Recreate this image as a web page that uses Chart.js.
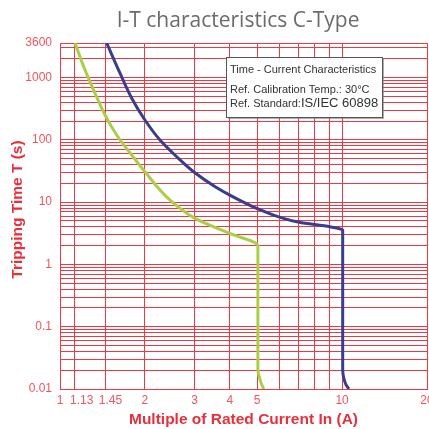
<!DOCTYPE html>
<html>
<head>
<meta charset="utf-8">
<script src="https://cdn.jsdelivr.net/npm/chart.js@4.4.1/dist/chart.umd.min.js"></script>
<style>
  html, body { margin:0; padding:0; background:#fff; }
  #wrap { width:429px; height:429px; position:relative; }
</style>
</head>
<body>
<div id="wrap"><canvas id="it-chart"></canvas></div>
<script>
// Curves: [multiple of In, seconds]
const blueCurve = [
  [1.464, 3600], [1.632, 1178], [1.796, 467], [2.0, 209], [2.262, 99.6], [2.593, 53.7],
  [3.0, 30], [3.55, 17.7], [4.0, 13.0], [5.0, 7.9], [5.97, 5.8], [7.05, 4.75],
  [9.06, 4.02], [10.05, 3.56], [10.05, 0.02], [10.14, 0.015], [10.3, 0.012], [10.57, 0.01]
];
const greenCurve = [
  [1.13, 3600], [1.226, 1330], [1.331, 561], [1.444, 251], [1.588, 120], [1.785, 59],
  [2.0, 30.8], [2.455, 10.8], [3.01, 5.5], [4.0, 3.15], [5.03, 2.0], [5.03, 0.02],
  [5.1, 0.015], [5.18, 0.012], [5.28, 0.01]
];

const xGridValues = [1, 1.13, 1.45, 2, 3, 4, 5, 6, 7, 8, 9, 10, 20];
const xTickLabels = [1, 1.13, 1.45, 2, 3, 4, 5, 10, 20];
const yTickLabels = [0.01, 0.1, 1, 10, 100, 1000, 3600];
const yMin = 0.01, yMax = 3600;

const legendLines = ['Time - Current Characteristics', 'Ref. Calibration Temp.: 30°C', 'Ref. Standard:', 'IS/IEC 60898'];

const RED_GRID = '#ec3a44';
const RED_TICK = '#ef5560';
const RED_TITLE = '#e8303b';
const LABEL_PAD = { 1.13: 4, 1.45: 3 };   // crowded labels sit a little right of their line

function yGrid() {
  const out = [];
  for (let e = -2; e <= 3; e++) {
    for (let m = 1; m <= 9; m++) {
      const v = +(m * Math.pow(10, e)).toPrecision(3);
      if (v <= yMax) out.push(v);
    }
  }
  out.push(yMax);
  return out;
}

const infoBox = {
  id: 'infoBox',
  afterDatasetsDraw(chart) {
    const ctx = chart.ctx;
    const x = 226, y = 57, w = 156, h = 60;
    ctx.save();
    ctx.fillStyle = 'rgba(120,120,120,0.6)';
    ctx.fillRect(x + 2, y + 2, w, h);
    ctx.fillStyle = '#fff';
    ctx.fillRect(x, y, w, h);
    ctx.strokeStyle = '#555';
    ctx.lineWidth = 1;
    ctx.strokeRect(x + 0.5, y + 0.5, w, h);
    ctx.fillStyle = '#333';
    ctx.textBaseline = 'alphabetic';
    ctx.font = '11px "Liberation Sans", Arial, sans-serif';
    ctx.fillText(legendLines[0], 230, 73);
    ctx.fillText(legendLines[1], 230, 93);
    ctx.fillText(legendLines[2], 230, 107);
    const wPre = ctx.measureText(legendLines[2]).width;
    ctx.font = '13px "Liberation Sans", Arial, sans-serif';
    ctx.fillText(legendLines[3], 230 + wPre, 107);
    ctx.restore();
  }
};

const toPts = arr => arr.map(([x, y]) => ({ x, y }));

new Chart(document.getElementById('it-chart'), {
  type: 'line',
  data: {
    datasets: [
      { label: 'C-Type max', data: toPts(blueCurve), borderColor: '#363f8e', borderWidth: 3,
        pointRadius: 0, cubicInterpolationMode: 'monotone', fill: false },
      { label: 'C-Type min', data: toPts(greenCurve), borderColor: '#a9cf47', borderWidth: 3,
        pointRadius: 0, cubicInterpolationMode: 'monotone', fill: false }
    ]
  },
  options: {
    indexAxis: 'y',
    responsive: true, maintainAspectRatio: false, animation: false,
    layout: { padding: { left: 0, right: 2, top: 0, bottom: 0 } },
    plugins: {
      legend: { display: false },
      tooltip: { enabled: false },
      title: {
        display: true, text: 'I-T characteristics C-Type  ', fullSize: false,
        color: '#6b6b6b', font: { family: '"Open Sans", sans-serif', size: 21, weight: 'normal' },
        padding: { top: 8, bottom: 9.8 }
      }
    },
    scales: {
      x: {
        type: 'logarithmic', position: 'bottom', min: 1, max: 20,
        afterBuildTicks: s => { s.ticks = xGridValues.map(v => ({ value: v })); },
        afterFit: s => { s.height = 40; s.paddingRight = 0; s.paddingLeft = 0; },
        grid: { color: RED_GRID, lineWidth: 1, drawTicks: false },
        border: { display: true, color: RED_GRID },
        ticks: {
          autoSkip: false, maxRotation: 0, padding: 4, color: RED_TICK,
          font: { family: '"Liberation Sans", Arial, sans-serif', size: 12 },
          callback: v => xTickLabels.includes(v) ? ' '.repeat(LABEL_PAD[v] || 0) + String(v) : ''
        },
        title: {
          display: true, text: 'Multiple of Rated Current In (A)', color: RED_TITLE,
          font: { family: '"Liberation Sans", Arial, sans-serif', size: 15.5, weight: 'bold' },
          padding: { top: 0, bottom: 0 }
        }
      },
      y: {
        type: 'logarithmic', position: 'left', min: yMin, max: yMax,
        afterBuildTicks: s => { s.ticks = yGrid().map(v => ({ value: v })); },
        afterFit: s => { s.width = 60; },
        grid: { color: RED_GRID, lineWidth: 1, drawTicks: false },
        border: { display: true, color: RED_GRID },
        ticks: {
          autoSkip: false, padding: 8, color: RED_TICK,
          font: { family: '"Liberation Sans", Arial, sans-serif', size: 12 },
          callback: v => yTickLabels.includes(v) ? String(v) : ''
        },
        title: {
          display: true, text: '   Tripping Time T (s)', color: RED_TITLE,
          font: { family: '"Liberation Sans", Arial, sans-serif', size: 15.5, weight: 'bold' },
          padding: { top: 8, bottom: 0 }
        }
      }
    }
  },
  plugins: [infoBox]
});
</script>
</body>
</html>
